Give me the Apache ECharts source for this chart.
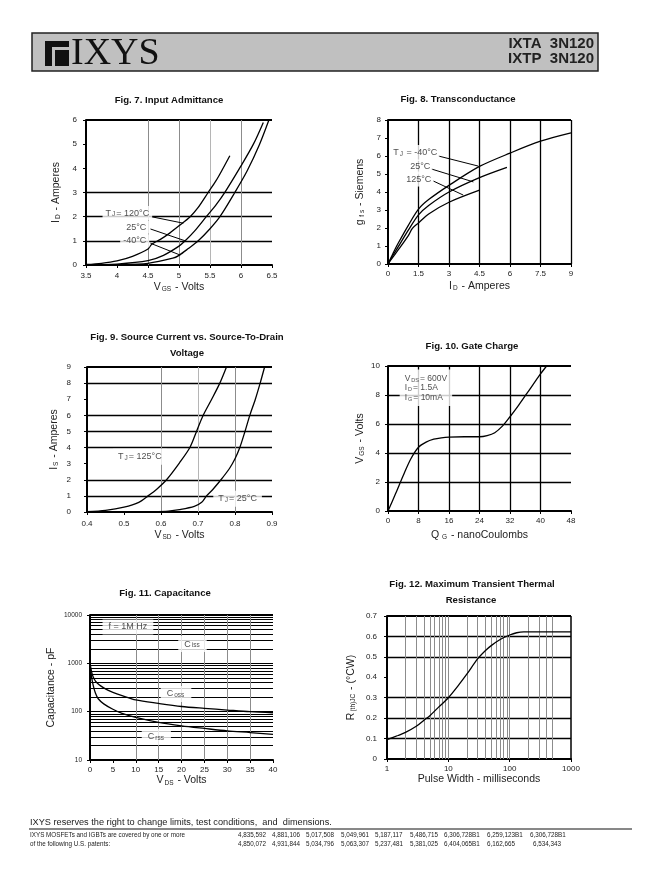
<!DOCTYPE html>
<html><head><meta charset="utf-8">
<script src="https://cdn.jsdelivr.net/npm/echarts@6/dist/echarts.min.js"></script>
<style>html,body{margin:0;padding:0;background:#fff}#c{width:662px;height:879px}</style>
</head><body><div id="c"></div><script>
// ---------------- DATA ----------------
// Fig 7 Input Admittance: [VGS, ID]
const fig7_tj120 = [[3.5,0.02],[3.75,0.07],[4.0,0.17],[4.25,0.36],[4.5,0.66],[4.56,0.86],[4.7,1.06],[4.85,1.32],[5.0,1.62],[5.18,2.0],[5.3,2.35],[5.47,3.0],[5.6,3.5],[5.7,3.95],[5.82,4.52]];
const fig7_tj25 = [[3.5,0],[4.0,0.04],[4.5,0.18],[4.75,0.4],[5.0,0.78],[5.1,1.0],[5.25,1.4],[5.44,2.0],[5.6,2.5],[5.75,3.05],[6.0,4.1],[6.2,5.0],[6.36,5.9]];
const fig7_tjm40 = [[3.5,0],[4.0,0.01],[4.5,0.07],[4.9,0.28],[5.0,0.4],[5.15,0.68],[5.31,1.0],[5.5,1.5],[5.66,2.0],[5.9,3.0],[6.1,3.9],[6.3,5.0],[6.45,6.0]];
// Fig 8 Transconductance: [ID, gfs]
const fig8_tjm40 = [[0,0],[0.25,0.6],[0.5,1.15],[1,2.15],[1.5,3.05],[2,3.58],[3,4.37],[4.5,5.42],[6,6.16],[7.5,6.82],[9,7.28]];
const fig8_tj25 = [[0,0],[0.25,0.5],[0.5,0.95],[1,1.88],[1.5,2.73],[2,3.25],[3,4.0],[4.5,4.8],[5.85,5.37]];
const fig8_tj125 = [[0,0],[0.25,0.4],[0.5,0.78],[1,1.58],[1.2,1.98],[1.5,2.28],[2,2.78],[3,3.43],[4.5,4.1]];
// Fig 9 Source current: [VSD, IS]
const fig9_tj125 = [[0.4,0.02],[0.45,0.1],[0.5,0.3],[0.54,0.6],[0.565,1.0],[0.59,1.45],[0.615,2.0],[0.65,3.05],[0.678,4.0],[0.696,5.0],[0.714,6.0],[0.737,7.0],[0.759,8.0],[0.777,9.0]];
const fig9_tj25 = [[0.58,0.02],[0.62,0.06],[0.65,0.15],[0.69,0.35],[0.71,0.6],[0.723,1.0],[0.74,1.4],[0.762,2.0],[0.785,2.7],[0.8,3.3],[0.813,4.0],[0.827,5.0],[0.84,6.0],[0.855,7.0],[0.868,8.0],[0.88,9.0]];
// Fig 10 Gate charge: [QG, VGS]
const fig10_vgs = [[0,0],[2,1.2],[4,2.45],[6,3.6],[8,4.4],[10,4.75],[12,4.95],[14,5.05],[16,5.1],[20,5.12],[24,5.12],[26,5.2],[28,5.4],[30,5.85],[32,6.5],[34,7.2],[36,7.95],[38,8.7],[40,9.45],[41.6,10]];
// Fig 11 Capacitance: [VDS, pF]
const fig11_coss = [[0,1050],[0.3,700],[0.7,520],[1.2,430],[2,360],[3,310],[4,275],[5,250],[7,215],[10,175],[15,148],[20,128],[25,117],[30,108],[35,100],[40,95]];
const fig11_crss = [[0,900],[0.3,550],[0.7,350],[1.2,240],[1.8,185],[3,145],[5,112],[7,92],[10,76],[15,60],[20,51],[25,45],[30,40],[35,37],[40,34]];
// Fig 12 Transient thermal: [ms, RthJC]
const fig12_rth = [[1,0.095],[1.5,0.115],[2,0.13],[3,0.16],[4,0.19],[5,0.212],[7,0.255],[10,0.3],[15,0.365],[20,0.415],[30,0.49],[40,0.53],[50,0.555],[70,0.585],[100,0.607],[130,0.618],[170,0.622],[1000,0.622]];

// gridline values
const fig7_hgrid = [1,2,3];
const fig7_vgrid = [4.5,5,5.5,6];
const fig8_vgrid = [1.5,3,4.5,6,7.5,9];
const fig9_hgrid = [1,2,4,5,6,8];
const fig9_vgrid = [0.6,0.7,0.8];
const fig10_hgrid = [2,4,6,8];
const fig10_vgrid = [8,16,24,32,40];
const fig11_hgrid = [20,30,40,50,60,70,80,90,100,200,300,400,500,600,700,800,900,1000,2000,3000,4000,5000,6000,7000,8000,9000];
const fig11_vgrid = [10,15,20,25,30,35];
const fig12_hgrid = [0.1,0.2,0.3,0.5,0.6];
const fig12_vgrid = [2,3,4,5,6,7,8,9,10,20,30,40,50,60,70,80,90,100,200,300,400,500];

// annotation labels [x, y, text]
const fig7_labels = [[4.167,2.15,'{t|T}{s|J}{t|= 120°C}'],[4.31,1.57,'{t|25°C}'],[4.286,1.0,'{t|-40°C}']];
const fig7_leaders = [[[4.55,2.0],[5.07,1.73]],[[4.54,1.49],[5.1,1.0]],[[4.54,0.9],[5.02,0.41]]];
const fig8_labels = [[1.343,6.17,'{t|T}{s|J}{t| = -40°C}'],[1.589,5.39,'{t|25°C}'],[1.515,4.72,'{t|125°C}']];
const fig8_leaders = [[[2.48,6.0],[4.44,5.44]],[[2.13,5.28],[4.2,4.56]],[[2.23,4.61],[3.7,3.83]]];
const fig9_labels = [[0.543,3.43,'{t|T}{s|J}{t|= 125°C}'],[0.807,0.83,'{t|T}{s|J}{t|= 25°C}']];
const fig11_labels = [[8.29,5650,'{t|f = 1M Hz}'],[22.4,2510,'{t|C}{s|iss}'],[18.8,232,'{t|C}{s|oss}'],[14.5,30,'{t|C}{s|rss}']];

// ---------------- HELPERS ----------------
const F = '"Liberation Sans", Arial, Helvetica, sans-serif';
const TXT = '#222';
const RICH = {
  a:{fontFamily:F,fontSize:10.5,color:TXT},
  s:{fontFamily:F,fontSize:6.5,color:TXT,padding:[5,1,0,1]}
};
const LRICH = {
  t:{fontFamily:F,fontSize:9,color:TXT},
  s:{fontFamily:F,fontSize:6.5,color:TXT,padding:[3,1,0,1]}
};
function axisBase(gi, extra){
  return Object.assign({
    gridIndex:gi,
    axisLine:{show:true,onZero:false,lineStyle:{color:'#000',width:2}},
    axisTick:{show:true,length:3,lineStyle:{color:'#000',width:1}},
    splitLine:{show:false},
    nameLocation:'middle',
    nameTextStyle:{rich:RICH},
  }, extra);
}
function lbl(margin, fmt, size){
  const o = {color:TXT,fontFamily:F,fontSize:size||8,margin:margin,showMinLabel:true,showMaxLabel:true};
  if (fmt) o.formatter = fmt;
  return o;
}
function gridSeries(i, hs, vs){
  const data = [];
  hs.forEach(h => data.push({yAxis:h[0], lineStyle:{color:h[1],width:h[2],type:'solid'}}));
  vs.forEach(v => data.push({xAxis:v[0], lineStyle:{color:v[1],width:v[2],type:'solid'}}));
  return {type:'line', xAxisIndex:i, yAxisIndex:i, data:[], silent:true, z:1,
    markLine:{z:1, silent:true, symbol:['none','none'], label:{show:false}, animation:false, data:data}};
}
function curve(i, d){
  return {type:'line', xAxisIndex:i, yAxisIndex:i, data:d, symbol:'none', showSymbol:false,
    smooth:0.3, lineStyle:{color:'#000',width:1.3}, z:3, silent:true, clip:true};
}
function leader(i, seg){
  return {type:'line', xAxisIndex:i, yAxisIndex:i, data:seg, symbol:'none', showSymbol:false,
    lineStyle:{color:'#000',width:1}, z:4, silent:true};
}
function labels(i, arr, extra){
  return {type:'scatter', xAxisIndex:i, yAxisIndex:i, symbolSize:1, itemStyle:{color:'rgba(0,0,0,0)'}, z:10, zlevel:1, silent:true,
    data: arr.map(a => ({value:[a[0],a[1]], label:{formatter:a[2]}})),
    label:Object.assign({show:true, position:'inside', backgroundColor:'#fff', padding:[3,4], rich:LRICH}, extra||{})};
}
const K = '#000', G1 = '#8c8c8c', G2 = '#b5b5b5';

const series = [];
// Fig 7
series.push(gridSeries(0, fig7_hgrid.map(v=>[v,K,1.3]).concat([[6,K,2]]), fig7_vgrid.map(v=>[v, v===5.5?G2:G1, 1])));
[fig7_tj120, fig7_tj25, fig7_tjm40].forEach(d=>series.push(curve(0,d)));
fig7_leaders.forEach(s=>series.push(leader(0,s)));
series.push(labels(0, fig7_labels, {padding:[2,3]}));
// Fig 8
series.push(gridSeries(1, [[8,K,2]], fig8_vgrid.map(v=>[v,K,1.3])));
[fig8_tjm40, fig8_tj25, fig8_tj125].forEach(d=>series.push(curve(1,d)));
fig8_leaders.forEach(s=>series.push(leader(1,s)));
series.push(labels(1, fig8_labels, {padding:[3,2]}));
// Fig 9
series.push(gridSeries(2, fig9_hgrid.map(v=>[v,K,1.3]).concat([[9,K,2]]), fig9_vgrid.map(v=>[v, v===0.7?G2:G1, 1])));
[fig9_tj125, fig9_tj25].forEach(d=>series.push(curve(2,d)));
series.push(labels(2, fig9_labels, {padding:[3,5]}));
// Fig 10
series.push(gridSeries(3, fig10_hgrid.map(v=>[v,K,1.3]).concat([[10,K,2]]), fig10_vgrid.map(v=>[v,K,1.3])));
series.push(curve(3, fig10_vgs));
series.push({type:'scatter', xAxisIndex:3, yAxisIndex:3, symbolSize:1, itemStyle:{color:'rgba(0,0,0,0)'}, z:10, zlevel:1, silent:true,
  data:[{value:[3.06,8.5]}],
  label:{show:true, position:'inside', align:'left', verticalAlign:'middle', backgroundColor:'#fff', padding:[4,5],
    formatter:'{t|V}{s|DS}{t|= 600V}\n{t|I}{s|D}{t|= 1.5A}\n{t|I}{s|G}{t|= 10mA}',
    rich:{t:{fontFamily:F,fontSize:8.5,color:TXT,lineHeight:9.5},s:{fontFamily:F,fontSize:5.5,color:TXT,padding:[4,1,0,1],lineHeight:9.5}}}});
// Fig 11
series.push(gridSeries(4, fig11_hgrid.map(v=>[v,K,1.2]).concat([[10000,K,2]]), fig11_vgrid.map(v=>[v,G1,1])));
[fig11_coss, fig11_crss].forEach(d=>series.push(curve(4,d)));
series.push(labels(4, fig11_labels, {padding:[3,6]}));
// Fig 12
series.push(gridSeries(5, fig12_hgrid.map(v=>[v,K,1.3]).concat([[0.7,K,2]]), fig12_vgrid.map(v=>[v,G1,1]).concat([[1000,K,1.5]])));
series.push(curve(5, fig12_rth));

const one = v => v.toFixed(1);
const TF = 'bold 9.6px '+F;
const option = {
  animation:false,
  backgroundColor:'#fff',
  grid:[
    {left:86, top:120, width:186, height:145},
    {left:388, top:120, width:183, height:144},
    {left:87, top:367, width:185, height:145},
    {left:388, top:366, width:183, height:145},
    {left:90, top:615, width:183, height:145},
    {left:387, top:616, width:184, height:143}
  ],
  xAxis:[
    axisBase(0,{type:'value',min:3.5,max:6.5,interval:0.5,axisLabel:lbl(7),name:'{a|V}{s|GS}{a| - Volts}',nameGap:16}),
    axisBase(1,{type:'value',min:0,max:9,interval:1.5,axisLabel:lbl(6),name:'{a|I}{s|D}{a| - Amperes}',nameGap:16}),
    axisBase(2,{type:'value',min:0.4,max:0.9,interval:0.1,axisLabel:lbl(8,one),name:'{a|V}{s|SD}{a| - Volts}',nameGap:17}),
    axisBase(3,{type:'value',min:0,max:48,interval:8,axisLabel:lbl(6),name:'{a|Q}{s| G}{a| - nanoCoulombs}',nameGap:18}),
    axisBase(4,{type:'value',min:0,max:40,interval:5,axisLabel:lbl(6),name:'{a|V}{s|DS}{a| - Volts}',nameGap:14}),
    axisBase(5,{type:'log',logBase:10,min:1,max:1000,axisLabel:lbl(6,v=>String(Math.round(v))),name:'{a|Pulse Width - milliseconds}',nameGap:14,axisTick:{show:true,length:3,lineStyle:{color:'#000'}},minorTick:{show:false}})
  ],
  yAxis:[
    axisBase(0,{type:'value',min:0,max:6,interval:1,axisLabel:lbl(9),name:'{a|I}{s|D}{a| - Amperes}',nameGap:24}),
    axisBase(1,{type:'value',min:0,max:8,interval:1,axisLabel:lbl(7),name:'{a|g}{s| f s}{a| - Siemens}',nameGap:22}),
    axisBase(2,{type:'value',min:0,max:9,interval:1,axisLabel:lbl(16),name:'{a|I}{s|S}{a| - Amperes}',nameGap:27}),
    axisBase(3,{type:'value',min:0,max:10,interval:2,axisLabel:lbl(8),name:'{a|V}{s|GS}{a| - Volts}',nameGap:22}),
    axisBase(4,{type:'log',logBase:10,min:10,max:10000,axisLabel:lbl(8,v=>String(Math.round(v)),6.5),name:'{a|Capacitance - pF}',nameGap:33}),
    axisBase(5,{type:'value',min:0,max:0.7,interval:0.1,axisLabel:lbl(10,v=>v===0?'0':v.toFixed(1)),name:'{a|R}{s|(th)JC}{a| - (°CW)}',nameGap:30})
  ],
  series:series,
  graphic:[
    // header
    {type:'rect', shape:{x:32,y:33,width:566,height:38}, style:{fill:'#c0c0c0',stroke:'#222',lineWidth:1.5}},
    {type:'rect', shape:{x:45,y:41,width:24,height:25}, style:{fill:'#111'}},
    {type:'rect', shape:{x:52,y:47,width:3,height:19}, style:{fill:'#c0c0c0'}},
    {type:'rect', shape:{x:52,y:47,width:17,height:3}, style:{fill:'#c0c0c0'}},
    {type:'rect', shape:{x:58,y:53,width:11,height:13}, style:{fill:'#111'}},
    {type:'text', x:71, y:54, style:{text:'IXYS', font:'38px "Liberation Serif", "Times New Roman", serif', fill:'#111', verticalAlign:'middle', align:'left'}},
    {type:'text', x:594, y:44, style:{text:'IXTA  3N120', font:'bold 15px "Liberation Sans", Arial, sans-serif', fill:'#222', align:'right', verticalAlign:'middle'}},
    {type:'text', x:594, y:59, style:{text:'IXTP  3N120', font:'bold 15px "Liberation Sans", Arial, sans-serif', fill:'#222', align:'right', verticalAlign:'middle'}},
    // titles
    {type:'text', x:169, y:100, style:{text:'Fig. 7. Input Admittance', font:TF, fill:'#111', align:'center', verticalAlign:'middle'}},
    {type:'text', x:458, y:99, style:{text:'Fig. 8. Transconductance', font:TF, fill:'#111', align:'center', verticalAlign:'middle'}},
    {type:'text', x:187, y:337, style:{text:'Fig. 9. Source Current vs. Source-To-Drain', font:TF, fill:'#111', align:'center', verticalAlign:'middle'}},
    {type:'text', x:187, y:353, style:{text:'Voltage', font:TF, fill:'#111', align:'center', verticalAlign:'middle'}},
    {type:'text', x:472, y:346, style:{text:'Fig. 10. Gate Charge', font:TF, fill:'#111', align:'center', verticalAlign:'middle'}},
    {type:'text', x:165, y:593, style:{text:'Fig. 11. Capacitance', font:TF, fill:'#111', align:'center', verticalAlign:'middle'}},
    {type:'text', x:472, y:584, style:{text:'Fig. 12. Maximum Transient Thermal', font:TF, fill:'#111', align:'center', verticalAlign:'middle'}},
    {type:'text', x:471, y:600, style:{text:'Resistance', font:TF, fill:'#111', align:'center', verticalAlign:'middle'}},
    // footer
    {type:'text', x:30, y:822, style:{text:'IXYS reserves the right to change limits, test conditions,  and  dimensions.', font:'9.2px '+F, fill:'#222', align:'left', verticalAlign:'middle'}},
    {type:'line', shape:{x1:29,y1:829,x2:632,y2:829}, style:{stroke:'#111',lineWidth:1}},
    {type:'text', x:30, y:835, style:{text:'IXYS MOSFETs and IGBTs are covered by one or more', font:'6.3px '+F, fill:'#222', align:'left', verticalAlign:'middle'}},
    {type:'text', x:30, y:844, style:{text:'of the following U.S. patents:', font:'6.3px '+F, fill:'#222', align:'left', verticalAlign:'middle'}}
  ]
};
const patRow1 = ['4,835,592','4,881,106','5,017,508','5,049,961','5,187,117','5,486,715','6,306,728B1','6,259,123B1','6,306,728B1'];
const patRow2 = ['4,850,072','4,931,844','5,034,796','5,063,307','5,237,481','5,381,025','6,404,065B1','6,162,665','6,534,343'];
const patX1 = [238,272,306,341,375,410,444,487,530];
const patX2 = [238,272,306,341,375,410,444,487,533];
patRow1.forEach((t,k)=>option.graphic.push({type:'text', x:patX1[k], y:835, style:{text:t, font:'6.3px '+F, fill:'#222', align:'left', verticalAlign:'middle'}}));
patRow2.forEach((t,k)=>option.graphic.push({type:'text', x:patX2[k], y:844, style:{text:t, font:'6.3px '+F, fill:'#222', align:'left', verticalAlign:'middle'}}));

const chart = echarts.init(document.getElementById('c'), null, {renderer:'canvas', width:662, height:879});
chart.setOption(option);
</script></body></html>
